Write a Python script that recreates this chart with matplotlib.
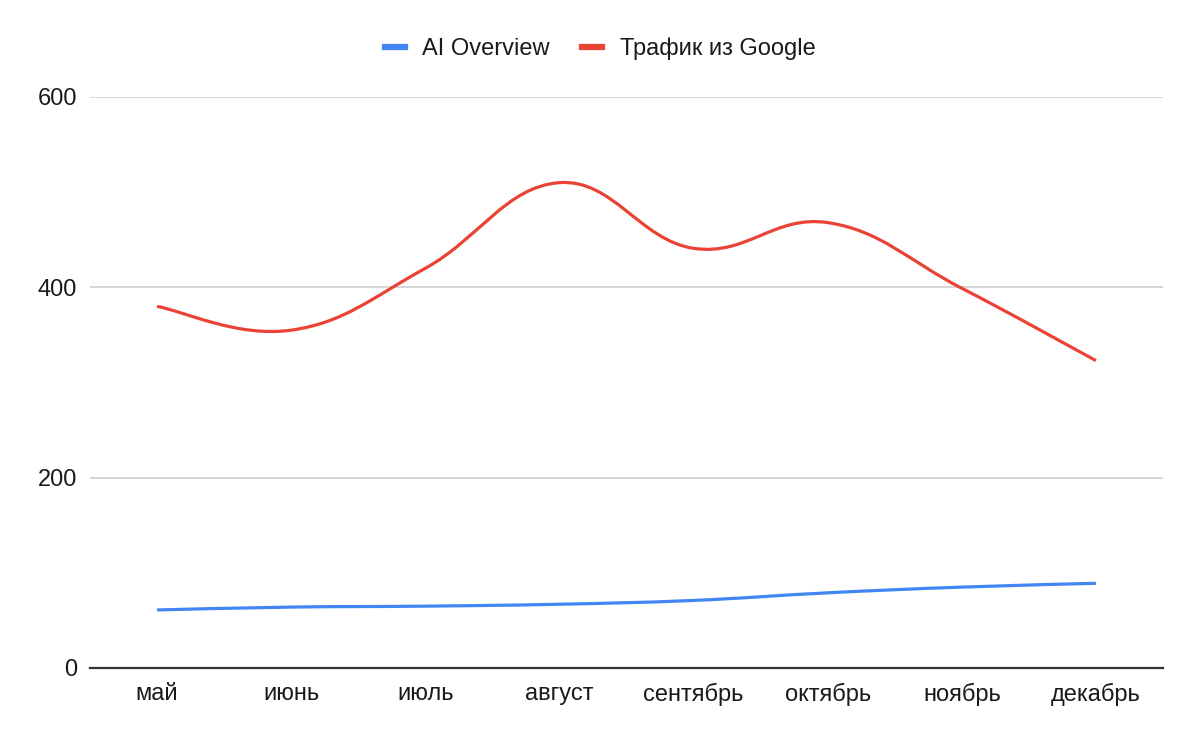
import numpy as np
import matplotlib.pyplot as plt
from matplotlib.path import Path
from matplotlib.patches import PathPatch
from matplotlib.lines import Line2D

plt.rcParams['font.family'] = ['Liberation Sans', 'DejaVu Sans']

months = ['май', 'июнь', 'июль', 'август', 'сентябрь', 'октябрь', 'ноябрь', 'декабрь']
ai_overview = [61, 64, 65, 67, 71, 79, 85, 89]
google_traffic = [380, 355, 420, 510, 441, 468, 399, 323]

BLUE = '#4285F4'
RED = '#EA4335'


# smooth curve through the points (cubic bezier, catmull-rom style tangents)
def smooth_path(x, y, k=0.2):
    x = np.asarray(x, float)
    y = np.asarray(y, float)
    verts = [(x[0], y[0])]
    codes = [Path.MOVETO]
    n = len(x)
    for i in range(n - 1):
        p0 = i - 1 if i > 0 else i
        p3 = i + 2 if i + 2 < n else i + 1
        c1 = (x[i] + k * (x[i + 1] - x[p0]), y[i] + k * (y[i + 1] - y[p0]))
        c2 = (x[i + 1] - k * (x[p3] - x[i]), y[i + 1] - k * (y[p3] - y[i]))
        verts += [c1, c2, (x[i + 1], y[i + 1])]
        codes += [Path.CURVE4] * 3
    return Path(verts, codes)


fig = plt.figure(figsize=(12, 7.42), dpi=100)
ax = fig.add_axes([90 / 1200, (742 - 668) / 742, (1163 - 90) / 1200, (668 - 97) / 742])

xs = np.arange(len(months))
for vals, col in [(google_traffic, RED), (ai_overview, BLUE)]:
    ax.add_patch(PathPatch(smooth_path(xs, vals), facecolor='none', edgecolor=col,
                           lw=2.3, capstyle='butt', joinstyle='round', zorder=3))

ax.set_xlim(-0.5, len(months) - 0.5)
ax.set_ylim(0, 600)
ax.set_yticks([0, 200, 400, 600])
ax.set_xticks(xs)
ax.set_xticklabels(months)
ax.tick_params(length=0, labelsize=17, colors='#1a1a1a')
ax.tick_params(axis='x', pad=10.5)
ax.tick_params(axis='y', pad=9.5)
ax.grid(axis='y', color='#cccccc', lw=1.1)
ax.set_axisbelow(True)
for s in ['top', 'right', 'left']:
    ax.spines[s].set_visible(False)
ax.spines['bottom'].set_color('#333333')
ax.spines['bottom'].set_linewidth(1.6)
ax.spines['bottom'].set_zorder(4)

handles = [Line2D([], [], color=BLUE, lw=4.5), Line2D([], [], color=RED, lw=4.5)]
fig.legend(handles, ['AI Overview', 'Трафик из Google'], loc='center',
           bbox_to_anchor=(0.5, 1 - 49 / 742), ncol=2, frameon=False,
           fontsize=17, handlelength=0.85, handletextpad=0.75, columnspacing=1.35,
           labelcolor='#1a1a1a')

fig.savefig('out.png', dpi=100, facecolor='white')
